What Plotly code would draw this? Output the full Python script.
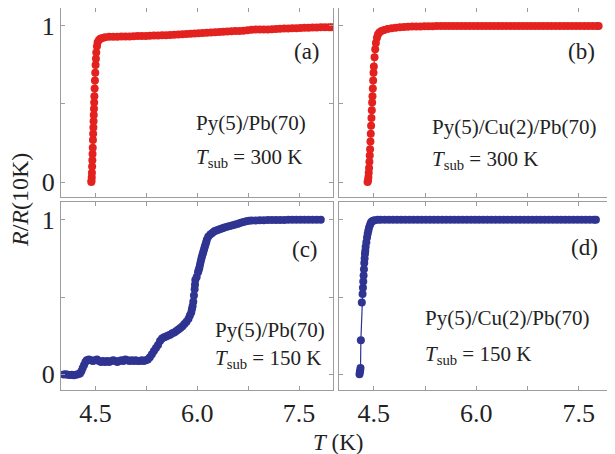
import plotly.graph_objects as go

# ---------------- data ----------------
# (a) Py(5)/Pb(70), Tsub = 300 K
T_a = [4.437, 4.44, 4.443, 4.446, 4.449, 4.452, 4.455, 4.458, 4.461, 4.464, 4.467, 4.47, 4.473,
       4.476, 4.479, 4.482, 4.486, 4.49, 4.495, 4.50, 4.505, 4.51, 4.52, 4.53, 4.55, 4.57, 4.60,
       4.64, 4.70, 4.76, 4.82, 4.88, 4.94, 5.00, 5.06, 5.12, 5.18, 5.24, 5.30, 5.36, 5.42, 5.48,
       5.54, 5.60, 5.66, 5.72, 5.78, 5.84, 5.90, 5.96, 6.02, 6.08, 6.14, 6.20, 6.26, 6.32, 6.38,
       6.44, 6.50, 6.56, 6.62, 6.68, 6.74, 6.80, 6.86, 6.92, 6.98, 7.04, 7.10, 7.16, 7.22, 7.28,
       7.34, 7.40, 7.46, 7.52, 7.58, 7.64, 7.70, 7.76, 7.82, 7.88, 7.94, 7.98]
R_a = [0.00, 0.01, 0.03, 0.06, 0.10, 0.14, 0.18, 0.22, 0.27, 0.31, 0.35, 0.39, 0.43,
       0.47, 0.51, 0.55, 0.60, 0.65, 0.70, 0.75, 0.79, 0.83, 0.87, 0.895, 0.91, 0.918, 0.923,
       0.927, 0.930, 0.931, 0.931, 0.932, 0.933, 0.933, 0.934, 0.935, 0.935, 0.936, 0.937, 0.938, 0.939, 0.940,
       0.941, 0.942, 0.944, 0.945, 0.947, 0.948, 0.950, 0.952, 0.954, 0.955, 0.957, 0.958, 0.960, 0.961, 0.963,
       0.964, 0.966, 0.967, 0.968, 0.970, 0.972, 0.975, 0.977, 0.977, 0.978, 0.978, 0.979, 0.981, 0.982, 0.983,
       0.984, 0.985, 0.986, 0.987, 0.988, 0.989, 0.990, 0.990, 0.991, 0.991, 0.992, 0.992]

# (b) Py(5)/Cu(2)/Pb(70), Tsub = 300 K
T_b = [4.408, 4.415, 4.42, 4.425, 4.43, 4.435, 4.44, 4.445, 4.45, 4.455, 4.46, 4.465, 4.47,
       4.475, 4.48, 4.485, 4.49, 4.495, 4.50, 4.51, 4.52, 4.53, 4.545, 4.56, 4.58, 4.61, 4.65,
       4.70, 4.76, 4.82, 4.88, 4.94, 5.00, 5.06, 5.12, 5.18, 5.24, 5.30, 5.36, 5.42, 5.48, 5.54,
       5.60, 5.66, 5.72, 5.78, 5.84, 5.90, 5.96, 6.02, 6.08, 6.14, 6.20, 6.26, 6.32, 6.38, 6.44,
       6.50, 6.56, 6.62, 6.68, 6.74, 6.80, 6.86, 6.92, 6.98, 7.04, 7.10, 7.16, 7.22, 7.28, 7.34,
       7.40, 7.46, 7.52, 7.58, 7.64, 7.70, 7.76, 7.79]
R_b = [0.00, 0.01, 0.03, 0.06, 0.09, 0.13, 0.17, 0.21, 0.26, 0.31, 0.36, 0.41, 0.46,
       0.51, 0.55, 0.60, 0.65, 0.70, 0.74, 0.80, 0.85, 0.89, 0.925, 0.945, 0.958, 0.967, 0.974,
       0.980, 0.985, 0.989, 0.992, 0.994, 0.995, 0.996, 0.997, 0.997, 0.998, 0.998, 0.998, 0.999, 0.999, 0.999,
       1.000, 0.999, 1.000, 1.000, 0.999, 1.000, 1.000, 1.000, 1.000, 0.999, 1.000, 1.000, 1.000, 1.000, 1.000,
       1.000, 0.999, 1.000, 1.000, 1.000, 1.000, 1.000, 0.999, 1.000, 1.000, 1.000, 1.000, 1.000, 1.000, 1.000,
       1.000, 1.000, 1.000, 1.000, 1.000, 1.000, 1.000, 1.000]

# (c) Py(5)/Pb(70), Tsub = 150 K
T_c = [4.03, 4.06, 4.09, 4.12, 4.15, 4.18, 4.21, 4.24, 4.27, 4.29, 4.31, 4.33, 4.35, 4.37, 4.40,
       4.43, 4.46, 4.49, 4.52, 4.55, 4.58, 4.61, 4.64, 4.67, 4.70, 4.73, 4.76, 4.79, 4.82, 4.85,
       4.88, 4.91, 4.94, 4.97, 5.00, 5.03, 5.06, 5.09, 5.12, 5.15, 5.18, 5.21, 5.24, 5.27, 5.30,
       5.33, 5.36, 5.39, 5.42, 5.45, 5.48, 5.51, 5.54, 5.57, 5.60, 5.63, 5.66, 5.69, 5.72, 5.75,
       5.78, 5.81, 5.84, 5.87, 5.89, 5.91, 5.92, 5.93, 5.94, 5.95, 5.96, 5.965, 5.97, 5.99, 6.01,
       6.02, 6.03, 6.04, 6.05, 6.06, 6.07, 6.08, 6.09, 6.10, 6.11, 6.12, 6.13, 6.14, 6.16, 6.19,
       6.22, 6.25, 6.28, 6.31, 6.34, 6.37, 6.40, 6.44, 6.48, 6.52, 6.56, 6.60, 6.64, 6.68, 6.72,
       6.76, 6.80, 6.86, 6.92, 6.98, 7.04, 7.10, 7.16, 7.22, 7.28, 7.34, 7.40, 7.46, 7.52, 7.58,
       7.64, 7.70, 7.76, 7.82]
R_c = [-0.002, 0.000, -0.003, -0.005, -0.004, -0.006, -0.004, 0.000, 0.005, 0.020, 0.040, 0.060, 0.080, 0.090, 0.095,
       0.090, 0.085, 0.090, 0.095, 0.085, 0.080, 0.085, 0.080, 0.085, 0.080, 0.085, 0.090, 0.085, 0.080, 0.085,
       0.090, 0.085, 0.095, 0.090, 0.085, 0.090, 0.085, 0.090, 0.085, 0.085, 0.090, 0.085, 0.090, 0.095, 0.110,
       0.130, 0.150, 0.170, 0.190, 0.215, 0.232, 0.240, 0.245, 0.250, 0.255, 0.265, 0.270, 0.280, 0.290, 0.300,
       0.310, 0.325, 0.340, 0.360, 0.380, 0.400, 0.420, 0.440, 0.470, 0.510, 0.550, 0.580, 0.610, 0.630, 0.660,
       0.675, 0.690, 0.710, 0.730, 0.750, 0.765, 0.780, 0.795, 0.810, 0.825, 0.840, 0.855, 0.870, 0.890, 0.905,
       0.915, 0.925, 0.930, 0.935, 0.940, 0.945, 0.950, 0.955, 0.960, 0.965, 0.970, 0.975, 0.980, 0.985, 0.990,
       0.993, 0.995, 0.996, 0.997, 0.997, 0.998, 0.998, 0.999, 0.999, 0.999, 1.000, 1.000, 1.000, 1.000, 1.000,
       1.000, 1.000, 1.000, 1.000]

# (d) Py(5)/Cu(2)/Pb(70), Tsub = 150 K
T_d = [4.29, 4.295, 4.30, 4.305, 4.31, 4.324, 4.335, 4.34, 4.345, 4.35, 4.355, 4.36, 4.365,
       4.37, 4.375, 4.38, 4.39, 4.40, 4.41, 4.42, 4.43, 4.445, 4.456, 4.47, 4.49, 4.51, 4.554,
       4.60, 4.66, 4.72, 4.78, 4.84, 4.90, 4.96, 5.02, 5.08, 5.14, 5.20, 5.26, 5.32, 5.38, 5.44,
       5.50, 5.56, 5.62, 5.68, 5.74, 5.80, 5.86, 5.92, 5.98, 6.04, 6.10, 6.16, 6.22, 6.28, 6.34,
       6.40, 6.46, 6.52, 6.58, 6.64, 6.70, 6.76, 6.82, 6.88, 6.94, 7.00, 7.06, 7.12, 7.18, 7.24,
       7.30, 7.36, 7.42, 7.48, 7.54, 7.60, 7.66, 7.72, 7.75]
R_d = [0.000, 0.015, 0.025, 0.040, 0.220, 0.465, 0.520, 0.560, 0.600, 0.640, 0.680, 0.720, 0.750,
       0.780, 0.800, 0.825, 0.855, 0.885, 0.910, 0.930, 0.950, 0.968, 0.980, 0.988, 0.994, 0.997, 1.000,
       1.000, 1.000, 1.000, 1.000, 1.000, 1.000, 1.000, 1.000, 1.000, 1.000, 1.000, 1.000, 1.000, 1.000, 1.000,
       1.000, 1.000, 1.000, 1.000, 1.000, 1.000, 1.000, 1.000, 1.000, 1.000, 1.000, 1.000, 1.000, 1.000, 1.000,
       1.000, 1.000, 1.000, 1.000, 1.000, 1.000, 1.000, 1.000, 1.000, 1.000, 1.000, 1.000, 1.000, 1.000, 1.000,
       1.000, 1.000, 1.000, 1.000, 1.000, 1.000, 1.000, 1.000, 1.000]

x_tickvals = [4.5, 6.0, 7.5]
x_ticktext = ["4.5", "6.0", "7.5"]
x_minorvals = [5.25, 6.75]
y_tickvals = [0, 1]
y_ticktext = ["0", "1"]
y_minorvals = [0.5]

sample_names = ["Py(5)/Pb(70)", "Py(5)/Cu(2)/Pb(70)", "Py(5)/Pb(70)", "Py(5)/Cu(2)/Pb(70)"]
tsub_values = ["300", "300", "150", "150"]
panel_tags = ["(a)", "(b)", "(c)", "(d)"]

# ---------------- figure ----------------
# the page body has an 8 px margin, so the figure is drawn 8 px in from the top-left corner
OFF = 8
W, H = 615 - OFF, 454 - OFF
RED = "#e3221f"
BLUE = "#2f3391"
FRAME = "#9c9c9c"
FONT = "Liberation Serif"
TXT = "#222222"

def fx(px):
    return (px - OFF) / W

def fy(py):
    return 1 - (py - OFF) / H

series = [(T_a, R_a, RED), (T_b, R_b, RED), (T_c, R_c, BLUE), (T_d, R_d, BLUE)]
# panel pixel boxes in the window: (left, right, top, bottom)
boxes = [(61, 333, 8, 197), (339, 613, 8, 197), (61, 333, 202, 390), (339, 613, 202, 390)]
yranges = [[-0.096, 1.115], [-0.096, 1.115], [-0.102, 1.115], [-0.102, 1.115]]

fig = go.Figure()
for i, (T, R, col) in enumerate(series):
    k = "" if i == 0 else str(i + 1)
    fig.add_trace(go.Scatter(
        x=T, y=R, mode="lines+markers", xaxis="x" + k, yaxis="y" + k,
        line=dict(color=col, width=1.2),
        marker=dict(color=col, size=8, line=dict(width=0)),
        showlegend=False, hoverinfo="skip"))

layout = dict(width=W, height=H, margin=dict(l=0, r=0, t=0, b=0),
              paper_bgcolor="white", plot_bgcolor="white",
              font=dict(family=FONT, color=TXT))

for i, (l, r, t, b) in enumerate(boxes):
    k = "" if i == 0 else str(i + 1)
    bottom_row = i >= 2
    left_col = i % 2 == 0
    layout["xaxis" + k] = dict(
        domain=[fx(l), min(1.0, fx(r))], range=[3.99, 8.0], anchor="y" + k,
        tickmode="array", tickvals=x_tickvals, ticktext=x_ticktext,
        ticks="inside", ticklen=4, tickcolor=FRAME, tickwidth=1,
        minor=dict(tickmode="array", tickvals=x_minorvals, ticks="inside", ticklen=4,
                   tickcolor=FRAME, tickwidth=1, showgrid=False),
        showline=True, linecolor=FRAME, linewidth=1, mirror="ticks",
        showgrid=False, zeroline=False, fixedrange=True,
        showticklabels=bottom_row,
        tickfont=dict(family=FONT, size=26, color=TXT))
    layout["yaxis" + k] = dict(
        domain=[max(0.0, fy(b)), min(1.0, fy(t))], range=yranges[i], anchor="x" + k,
        tickmode="array", tickvals=y_tickvals, ticktext=y_ticktext,
        ticks="inside", ticklen=4, tickcolor=FRAME, tickwidth=1,
        minor=dict(tickmode="array", tickvals=y_minorvals, ticks="inside", ticklen=4,
                   tickcolor=FRAME, tickwidth=1, showgrid=False),
        showline=True, linecolor=FRAME, linewidth=1, mirror="ticks",
        showgrid=False, zeroline=False, fixedrange=True,
        showticklabels=left_col,
        tickfont=dict(family=FONT, size=26, color=TXT))

annotations = []
name_pos = [(194, 123), (430, 127), (213, 330), (423, 318)]
tsub_pos = [(194, 158), (430, 160), (213, 359), (423, 355)]
tag_pos = [(322, 52), (597, 52), (320, 249), (600, 247)]
for i in range(4):
    annotations.append(dict(x=fx(name_pos[i][0]), y=fy(name_pos[i][1]), xref="paper", yref="paper",
                            text=sample_names[i], showarrow=False, xanchor="left", yanchor="middle",
                            font=dict(family=FONT, size=21, color=TXT)))
    annotations.append(dict(x=fx(tsub_pos[i][0]), y=fy(tsub_pos[i][1]), xref="paper", yref="paper",
                            text="<i>T</i><sub>sub</sub> = " + tsub_values[i] + " K", showarrow=False,
                            xanchor="left", yanchor="middle",
                            font=dict(family=FONT, size=21, color=TXT)))
    annotations.append(dict(x=fx(tag_pos[i][0]), y=fy(tag_pos[i][1]), xref="paper", yref="paper",
                            text=panel_tags[i], showarrow=False, xanchor="right", yanchor="middle",
                            font=dict(family=FONT, size=23, color=TXT)))

annotations.append(dict(x=fx(338), y=fy(442), xref="paper", yref="paper", text="<i>T</i> (K)",
                        showarrow=False, xanchor="center", yanchor="middle",
                        font=dict(family=FONT, size=23, color=TXT)))
annotations.append(dict(x=fx(20), y=fy(200), xref="paper", yref="paper",
                        text="<i>R</i>/<i>R</i>(10K)", textangle=-90, showarrow=False,
                        xanchor="center", yanchor="middle",
                        font=dict(family=FONT, size=24, color=TXT)))
layout["annotations"] = annotations

fig.update_layout(**layout)
fig.write_html("out.html")
